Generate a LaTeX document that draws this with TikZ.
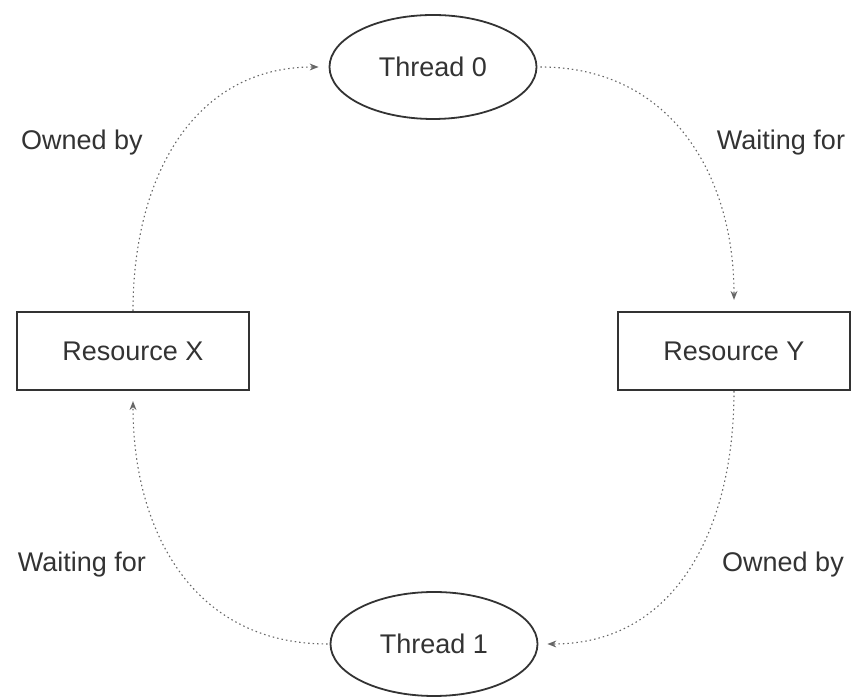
\documentclass[tikz,border=0pt]{standalone}
\usepackage{fontspec}
\setmainfont{Liberation Sans}
\usepackage{tikz}
\usetikzlibrary{shapes.geometric}
\usetikzlibrary{arrows.meta}
\tikzset{%
    thr/.style={ellipse,draw=black!80,line width=1.8pt,minimum width=207pt,minimum height=104pt,inner sep=0pt},
    res/.style={rectangle,draw=black!80,line width=2.2pt,minimum width=232pt,minimum height=78pt,inner sep=0pt},
    link/.style={black!60,line width=1.1pt,dash pattern=on 1.5pt off 3pt,-{Stealth[length=9pt,width=7pt,line width=0pt]}},
    lbl/.style={inner sep=0pt,text=black!80}
}

\begin{document}
\begin{tikzpicture}[x=1pt,y=1pt,font=\fontsize{27}{32}\selectfont]
            \useasboundingbox (0,0) rectangle (854,698);
            \node[thr,text=black!80] (t0) at (433,631){Thread 0};
            \node[thr,text=black!80] (t1) at (434,54){Thread 1};
            \node[res,text=black!80] (rx) at (133,347){Resource X};
            \node[res,text=black!80] (ry) at (734,347){Resource Y};

            \node[lbl] (own0) at (82,555){Owned by};
            \node[lbl] (wait0) at (781,555){Waiting for};
            \node[lbl] (wait1) at (82,133){Waiting for};
            \node[lbl] (own1) at (783,133){Owned by};

            % \node[lbl] (cycle) at (433,347){Deadlock};
            \draw[link,shorten >=10pt] (rx.north) to[out=90,in=180,looseness=1.1] (t0.west);
            \draw[link,shorten >=11pt,shorten <=3pt] (t0.east) to[out=0,in=90,looseness=1.1] (ry.north);
            \draw[link,shorten >=9pt] (ry.south) to[out=270,in=0,looseness=1.1] (t1.east);
            \draw[link,shorten >=10pt,shorten <=2pt] (t1.west) to[out=180,in=270,looseness=1.1] (rx.south);
        \end{tikzpicture}
\end{document}
